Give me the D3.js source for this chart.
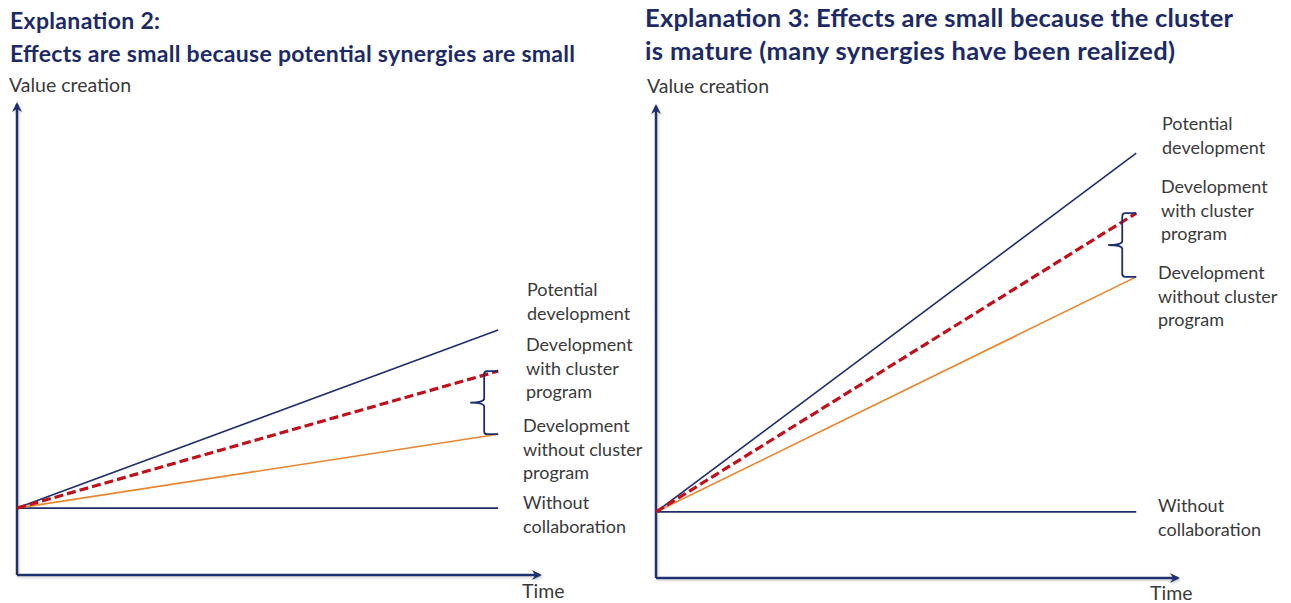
<!DOCTYPE html>
<html>
<head>
<meta charset="utf-8">
<script src="https://cdn.jsdelivr.net/npm/d3@7"></script>
<style>
  body { margin: 0; background: #fff; }
  svg { display: block; font-family: Lato, "Open Sans", sans-serif; }
  .title { font-weight: bold; fill: #1c2a68; }
  .axis-label { fill: #3a3a3a; font-size: 19.5px; }
  .lbl { fill: #3a3a3a; font-size: 18px; }
</style>
</head>
<body>
<svg id="chart" width="1291" height="603"></svg>
<script>
// time points (start, end of lines)
const times = [0, 92];
// left panel: Explanation 2
const left_potential = [14.2, 52];
const left_withProgram = [14.2, 43.3];
const left_withoutProgram = [14.2, 29.9];
const left_noCollab = [14.2, 14.2];
// right panel: Explanation 3
const right_potential = [14, 90];
const right_withProgram = [14, 77.3];
const right_withoutProgram = [14, 63.8];
const right_noCollab = [14, 14];

const panels = [
  {
    titles: ['Explanation 2:', 'Effects are small because potential synergies are small'],
    titleWidths: [150, 565], titleSize: 23,
    titleX: 10, titleY: [29, 62],
    x0: 17, x1: 540, y0: 575, y1: 104,
    series: [left_potential, left_withProgram, left_withoutProgram, left_noCollab],
    labels: [
      { lines: ['Potential', 'development'], dx: 527, y: 296 },
      { lines: ['Development', 'with cluster', 'program'], dx: 526, y: 351 },
      { lines: ['Development', 'without cluster', 'program'], dx: 523, y: 432 },
      { lines: ['Without', 'collaboration'], dx: 523, y: 509 }
    ],
    timeX: 522, timeY: 598, vcX: 9, vcY: 92
  },
  {
    titles: ['Explanation 3: Effects are small because the cluster', 'is mature (many synergies have been realized)'],
    titleWidths: [588, 530], titleSize: 25.5,
    titleX: 645, titleY: [27, 60],
    x0: 656, x1: 1178, y0: 578, y1: 106,
    series: [right_potential, right_withProgram, right_withoutProgram, right_noCollab],
    labels: [
      { lines: ['Potential', 'development'], dx: 1162, y: 130 },
      { lines: ['Development', 'with cluster', 'program'], dx: 1161, y: 193 },
      { lines: ['Development', 'without cluster', 'program'], dx: 1158, y: 279 },
      { lines: ['Without', 'collaboration'], dx: 1158, y: 512 }
    ],
    timeX: 1150, timeY: 600, vcX: 647, vcY: 93
  }
];

const styles = [
  { color: '#1f2f6e', width: 1.6, dash: null },
  { color: '#c0101a', width: 3.2, dash: '9,4' },
  { color: '#ea8530', width: 1.6, dash: null },
  { color: '#1f2f6e', width: 1.6, dash: null }
];

const svg = d3.select('#chart');

const defs = svg.append('defs');
defs.append('marker')
  .attr('id', 'arrow')
  .attr('viewBox', '0 0 10 10')
  .attr('refX', 8).attr('refY', 5)
  .attr('markerWidth', 4).attr('markerHeight', 4)
  .attr('orient', 'auto')
  .append('path')
  .attr('d', 'M0,0 L10,5 L0,10 L3,5 z')
  .attr('fill', '#1f3170');
const shadow = defs.append('filter').attr('id', 'shadow')
  .attr('x', '-5%').attr('y', '-5%').attr('width', '110%').attr('height', '110%');
shadow.append('feDropShadow')
  .attr('dx', 1).attr('dy', 1.5).attr('stdDeviation', 1)
  .attr('flood-color', '#999').attr('flood-opacity', 0.5);

panels.forEach(p => {
  const x = d3.scaleLinear().domain([0, 100]).range([p.x0, p.x1]);
  const y = d3.scaleLinear().domain([0, 100]).range([p.y0, p.y1]);

  // titles
  p.titles.forEach((t, i) => {
    svg.append('text').attr('class', 'title')
      .attr('x', p.titleX).attr('y', p.titleY[i])
      .style('font-size', p.titleSize + 'px')
      .attr('textLength', p.titleWidths[i])
      .attr('lengthAdjust', 'spacing')
      .text(t);
  });

  svg.append('text').attr('class', 'axis-label')
    .attr('x', p.vcX).attr('y', p.vcY).text('Value creation');
  svg.append('text').attr('class', 'axis-label')
    .attr('x', p.timeX).attr('y', p.timeY).text('Time');

  // axes
  const ax = svg.append('g').attr('filter', 'url(#shadow)');
  ax.append('line')
    .attr('x1', x(0)).attr('y1', y(0)).attr('x2', x(0)).attr('y2', y(100))
    .attr('stroke', '#1f3170').attr('stroke-width', 2.5)
    .attr('marker-end', 'url(#arrow)');
  ax.append('line')
    .attr('x1', x(0)).attr('y1', y(0)).attr('x2', x(100)).attr('y2', y(0))
    .attr('stroke', '#1f3170').attr('stroke-width', 2.5)
    .attr('marker-end', 'url(#arrow)');

  const line = d3.line()
    .x((d, i) => x(times[i]))
    .y(d => y(d));

  // draw order: flat, orange, potential, dashed on top
  [3, 2, 0, 1].forEach(k => {
    const s = styles[k];
    svg.append('path')
      .datum(p.series[k])
      .attr('d', line)
      .attr('fill', 'none')
      .attr('stroke', s.color)
      .attr('stroke-width', s.width)
      .attr('stroke-dasharray', s.dash);
  });

  // brace between with-program and without-program ends
  const bx = x(times[1]);
  const yTop = y(p.series[1][1]);
  const yBot = y(p.series[2][1]);
  const ym = (yTop + yBot) / 2;
  const w = 14, tip = 28;
  const brace = `M${bx},${yTop} L${bx - w + 3},${yTop} Q${bx - w},${yTop} ${bx - w},${yTop + 3}`
    + ` L${bx - w},${ym - 4} Q${bx - w},${ym} ${bx - tip},${ym}`
    + ` Q${bx - w},${ym} ${bx - w},${ym + 4}`
    + ` L${bx - w},${yBot - 3} Q${bx - w},${yBot} ${bx - w + 3},${yBot} L${bx},${yBot}`;
  svg.append('path')
    .attr('d', brace)
    .attr('fill', 'none')
    .attr('stroke', '#1f2f6e')
    .attr('stroke-width', 1.8);

  // labels
  p.labels.forEach(l => {
    const t = svg.append('text').attr('class', 'lbl')
      .attr('x', l.dx).attr('y', l.y);
    l.lines.forEach((s, i) => {
      t.append('tspan').attr('x', l.dx).attr('dy', i === 0 ? 0 : 23.5).text(s);
    });
  });
});
</script>
</body>
</html>
